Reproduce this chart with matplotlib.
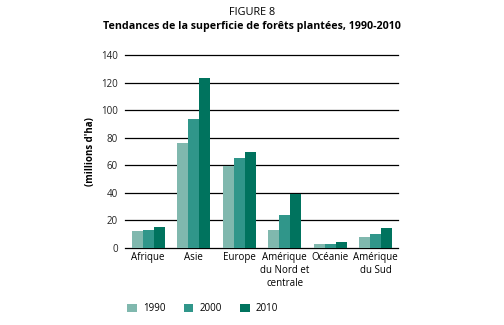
import numpy as np
import matplotlib.pyplot as plt

plt.rcParams['font.family'] = ['Open Sans', 'DejaVu Sans']

# data (millions of ha)
regions = ['Afrique', 'Asie', 'Europe', 'Amérique\ndu Nord et\ncentrale', 'Océanie', 'Amérique\ndu Sud']
years = ['1990', '2000', '2010']
v1990 = [12.3, 76.0, 59.6, 13.1, 2.9, 8.0]
v2000 = [13.1, 93.5, 65.4, 24.0, 2.9, 10.2]
v2010 = [15.0, 123.2, 69.5, 39.2, 4.4, 14.5]
colors = ['#80b8ae', '#30968a', '#00735e']

fig = plt.figure(figsize=(5.04, 3.25), dpi=100)
fig.patch.set_facecolor('white')
ax = fig.add_axes([0.248, 0.237, 0.542, 0.594])

x = np.arange(len(regions))
w = 0.242
bars = []
for i, vals in enumerate([v1990, v2000, v2010]):
    b = ax.bar(x + (i - 1) * w, vals, width=w, color=colors[i], label=years[i], zorder=3)
    bars.append(b)

ax.set_xlim(-0.51, 5.49)
ax.set_ylim(0, 140)
ax.set_yticks(np.arange(0, 141, 20))
ax.set_xticks(x)
ax.set_xticklabels(regions, fontsize=7, linespacing=1.25)
ax.tick_params(axis='y', length=0, pad=5, labelsize=7, labelcolor='#222222')
ax.tick_params(axis='x', length=0, pad=3)
for s in ax.spines.values():
    s.set_visible(False)
ax.yaxis.grid(True, color='black', linewidth=0.9, zorder=0)
for gl in ax.get_ygridlines():
    gl.set_clip_on(False)
ax.set_axisbelow(True)

ax.set_ylabel("(millions d'ha)", fontsize=7, fontweight='bold', labelpad=4)

fig.text(0.5, 0.963, 'FIGURE 8', ha='center', va='center', fontsize=7.8)
fig.text(0.5, 0.917, 'Tendances de la superficie de forêts plantées, 1990-2010',
         ha='center', va='center', fontsize=7.7, fontweight='bold')

fig.legend(handles=bars, labels=years, loc='center left', bbox_to_anchor=(0.235, 0.05),
           ncol=3, frameon=False, fontsize=7, handlelength=1.0, handleheight=1.0,
           columnspacing=1.9, handletextpad=0.6)

fig.savefig('out.png', dpi=100)
